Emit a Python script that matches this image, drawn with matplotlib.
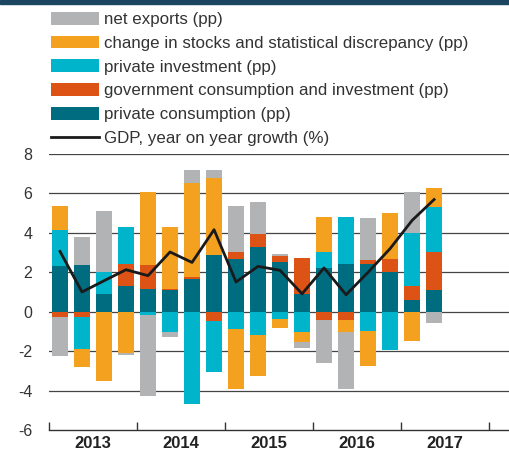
import numpy as np
import matplotlib.pyplot as plt
from matplotlib.patches import Rectangle

plt.rcParams['font.family'] = ['Liberation Sans', 'DejaVu Sans']
plt.rcParams['axes.unicode_minus'] = False

years = ["2013", "2014", "2015", "2016", "2017"]
quarters = np.arange(18)

consumption = [2.30, 2.39, 0.91, 1.32, 1.17, 1.08, 1.67, 2.89, 2.67, 3.28,
               2.50, 0.88, 2.22, 2.42, 2.42, 2.00, 0.57, 1.08]
government = [-0.27, -0.28, 0.00, 1.10, 1.22, 0.09, 0.08, -0.46, 0.34, 0.68,
              0.34, 1.84, -0.41, -0.41, 0.22, 0.69, 0.72, 1.93]
investment = [1.86, -1.60, 1.12, 1.88, -0.15, -1.02, -4.69, -2.62, -0.86, -1.17,
              -0.36, -1.05, 0.79, 2.39, -0.96, -1.92, 2.72, 2.29]
stocks = [1.22, -0.91, -3.52, -2.10, 3.69, 3.13, 4.76, 3.91, -3.05, -2.08,
          -0.49, -0.49, 1.80, -0.61, -1.80, 2.33, -1.51, 1.00]
net_exports = [-2.00, 1.40, 3.10, -0.10, -4.12, -0.27, 0.70, 0.41, 2.37, 1.61,
               0.10, -0.29, -2.20, -2.89, 2.11, 0.00, 2.07, -0.59]
gdp = [3.06, 1.00, 1.57, 2.13, 1.83, 3.03, 2.50, 4.16, 1.51, 2.30,
       2.10, 0.91, 2.22, 0.86, 2.00, 3.20, 4.63, 5.69]

series = [
    (consumption, "#006c80", "private consumption (pp)"),
    (government, "#dd5316", "government consumption and investment (pp)"),
    (investment, "#00b5cb", "private investment (pp)"),
    (stocks, "#f4a11f", "change in stocks and statistical discrepancy (pp)"),
    (net_exports, "#b2b3b5", "net exports (pp)"),
]

fig = plt.figure(figsize=(5.10, 4.51), dpi=100)
ax = fig.add_axes([49 / 510, 1 - 430 / 451, 461 / 510, 276 / 451])
fig.patches.append(Rectangle((0, 1 - 4 / 451), 1, 4 / 451, transform=fig.transFigure,
                             color="#1c4561", zorder=0))

pos = np.zeros(len(quarters))
neg = np.zeros(len(quarters))
handles = {}
for vals, col, lab in series:
    v = np.array(vals)
    bottom = np.where(v >= 0, pos, neg)
    h = ax.bar(quarters, v, width=0.72, bottom=bottom, color=col, zorder=2, label=lab)
    handles[lab] = h
    pos = pos + np.clip(v, 0, None)
    neg = neg + np.clip(v, None, 0)

line, = ax.plot(quarters, gdp, color="#1a1a1a", lw=2.0, zorder=3,
                label="GDP, year on year growth (%)")

ax.set_xlim(-0.5, 20.45)
ax.set_ylim(-6, 8)
ax.set_yticks(np.arange(-6, 9, 2))
for y in np.arange(-4, 9, 2):
    ax.axhline(y, color="#444444", lw=0.9, zorder=1)
for s in ["top", "right", "left"]:
    ax.spines[s].set_visible(False)
ax.spines["bottom"].set_color("#333333")
ax.spines["bottom"].set_linewidth(1.0)
ax.tick_params(axis="y", length=0, pad=12, labelsize=11.5, labelcolor="#333333")
ax.set_xticks([-0.5, 3.5, 7.5, 11.5, 15.5, 19.5])
ax.set_xticklabels([])
ax.tick_params(axis="x", direction="in", length=5.5, width=1.0, color="#333333")
for i, yr in enumerate(years):
    ax.text(1.5 + 4 * i, -6.68, yr, ha="center", va="center", fontsize=12,
            fontweight="bold", color="#222222")

order = ["net exports (pp)", "change in stocks and statistical discrepancy (pp)",
         "private investment (pp)", "government consumption and investment (pp)",
         "private consumption (pp)"]
leg = ax.legend([handles[o] for o in order] + [line], order + [line.get_label()],
                loc="upper left", bbox_to_anchor=(51 / 510, 1 - 12 / 451),
                bbox_transform=fig.transFigure, frameon=False, fontsize=12.2,
                handlelength=2.83, handleheight=0.78, handletextpad=0.3,
                labelspacing=0.5, borderpad=0, borderaxespad=0)
for t in leg.get_texts():
    t.set_color("#333333")

fig.savefig("out.png", dpi=100)
